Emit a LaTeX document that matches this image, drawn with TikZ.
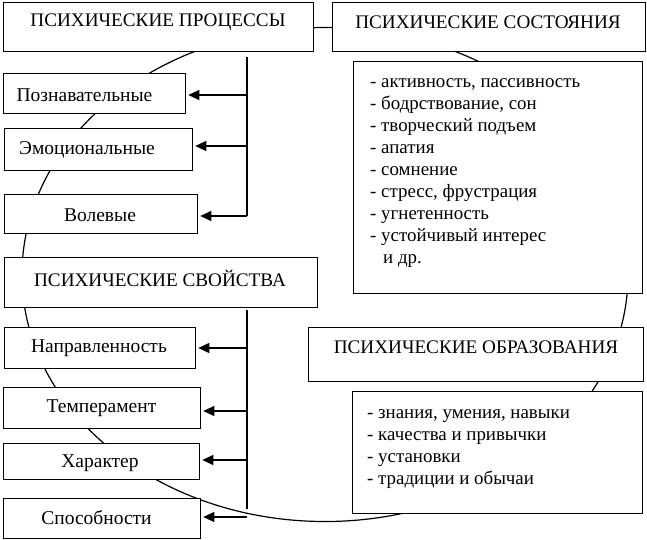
\documentclass[tikz,border=0pt]{standalone}
\usepackage{fontspec}
\setmainfont{Liberation Serif}
\usetikzlibrary{arrows.meta}
\begin{document}
\begin{tikzpicture}[x=1pt,y=-1pt,
 box/.style={draw, line width=1.3pt, fill=white, rectangle, inner sep=0pt, anchor=north west},
 head/.style={font=\fontsize{19.2}{24}\selectfont, inner sep=0pt},
 item/.style={font=\fontsize{19.5}{22}\selectfont, inner sep=0pt},
 lst/.style={font=\fontsize{18.9}{22}\selectfont, align=left, anchor=north west, inner sep=0pt},
 conn/.style={line width=1.1pt},
 arr/.style={line width=1.1pt, -{Triangle[length=11pt,width=10pt]}, shorten >=2pt}]
\useasboundingbox (0,0) rectangle (647,539);
\draw[line width=1.2pt] (325,274.5) ellipse [x radius=303pt, y radius=247pt];
% headers
\node[box, minimum width=310pt, minimum height=49.5pt] (pp) at (3,1.5) {};
\node[head] (ppt) at (158,22) {ПСИХИЧЕСКИЕ ПРОЦЕССЫ};
\node[box, minimum width=313pt, minimum height=49.5pt] (ps) at (332,1.5) {};
\node[head] (pst) at (488,22) {ПСИХИЧЕСКИЕ СОСТОЯНИЯ};
\node[box, minimum width=313pt, minimum height=50pt] (psv) at (4,257) {};
\node[head] (psvt) at (160,278) {ПСИХИЧЕСКИЕ СВОЙСТВА};
\node[box, minimum width=335pt, minimum height=54pt] (po) at (308,327) {};
\node[head] (pot) at (476,347) {ПСИХИЧЕСКИЕ ОБРАЗОВАНИЯ};
% lists
\node[box, minimum width=289pt, minimum height=232pt] (psl) at (353,61) {};
\node[lst] (pslt) at (370,71.6) {\strut- активность, пассивность\\- бодрствование, сон\\- творческий подъем\\- апатия\\- сомнение\\- стресс, фрустрация\\- угнетенность\\- устойчивый интерес\\\hspace*{13pt}и др.};
\node[box, minimum width=290pt, minimum height=122pt] (pol) at (352,391) {};
\node[lst] (polt) at (367,402.6) {\strut- знания, умения, навыки\\- качества и привычки\\- установки\\- традиции и обычаи};
% process boxes
\node[box, minimum width=182pt, minimum height=40pt] (posn) at (3,73) {};
\node[item] (posnt) at (84.5,95) {Познавательные};
\node[box, minimum width=188pt, minimum height=42pt] (emoc) at (4,128) {};
\node[item] (emoct) at (87,150) {Эмоциональные};
\node[box, minimum width=193pt, minimum height=39pt] (vol) at (4,194) {};
\node[item] (volt) at (100,215) {Волевые};
% property boxes
\node[box, minimum width=191pt, minimum height=41pt] (napr) at (4,327) {};
\node[item] (naprt) at (99,348) {Направленность};
\node[box, minimum width=197pt, minimum height=41pt] (temp) at (3,387) {};
\node[item] (tempt) at (101.5,408) {Темперамент};
\node[box, minimum width=196pt, minimum height=36pt] (har) at (3,443) {};
\node[item] (hart) at (100,463) {Характер};
\node[box, minimum width=197pt, minimum height=39.5pt] (spos) at (3,498) {};
\node[item] (spost) at (96.5,518) {Способности};
% connectors: processes
\coordinate (pa) at (247,57);
\coordinate (pb) at (247,216);
\draw[conn] (pa) -- (pb);
\coordinate (p1) at (247,95);
\coordinate (p2) at (247,146);
\draw[arr] (p1) -- (p1 -| posn.east);
\draw[arr] (p2) -- (p2 -| emoc.east);
\draw[arr] (pb) -- (pb -| vol.east);
% connectors: properties
\coordinate (sa) at (247,310);
\coordinate (sb) at (247,509);
\draw[conn] (sa) -- (sb);
\coordinate (s1) at (247,348);
\coordinate (s2) at (247,411);
\coordinate (s3) at (247,460);
\coordinate (s4) at (247,517);
\draw[arr] (s1) -- (s1 -| napr.east);
\draw[arr] (s2) -- (s2 -| temp.east);
\draw[arr] (s3) -- (s3 -| har.east);
\draw[arr] (s4) -- (s4 -| spos.east);
\end{tikzpicture}
\end{document}
